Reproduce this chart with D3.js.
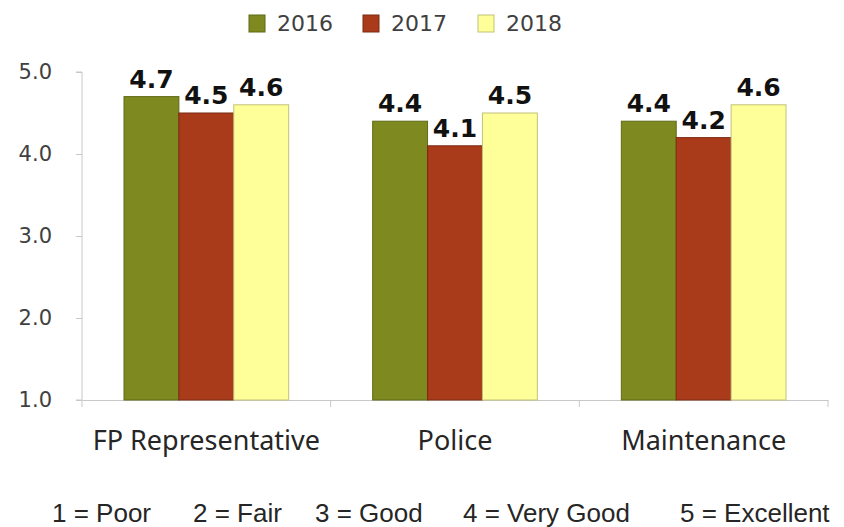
<!DOCTYPE html>
<html>
<head>
<meta charset="utf-8">
<script src="https://cdn.jsdelivr.net/npm/d3@7"></script>
<style>
  body { margin: 0; background: #fff; }
  text { font-family: "Noto Sans", sans-serif; }
</style>
</head>
<body>
<script>
"use strict";

const categories = ["FP Representative", "Police", "Maintenance"];
const years = ["2016", "2017", "2018"];
const values2016 = [4.7, 4.4, 4.4];
const values2017 = [4.5, 4.1, 4.2];
const values2018 = [4.6, 4.5, 4.6];
const yTicks = [1, 2, 3, 4, 5];
const scaleNote = ["1 = Poor", "2 = Fair", "3 = Good", "4 = Very Good", "5 = Excellent"];

const colors = ["#7e891f", "#a93a1a", "#ffff99"];
const strokes = ["#5f6a15", "#7d2a12", "#c2c27a"];

const series = [values2016, values2017, values2018];

let svg = d3.select("body")
  .append("svg")
  .attr("width", 844)
  .attr("height", 527);

let x = d3.scaleBand()
  .domain(categories)
  .range([82, 828]);

let x1 = d3.scaleBand()
  .domain(years)
  .range([42, x.bandwidth() - 42]);

let y = d3.scaleLinear()
  .domain([1, 5])
  .range([400, 72]);

// y axis
let yAxis = svg.append("g")
  .attr("transform", "translate(82,0)")
  .call(d3.axisLeft(y).tickValues(yTicks).tickSize(6).tickFormat(d3.format(".1f")));
yAxis.select(".domain").attr("stroke", "#c8c8c8").attr("d", "M-6,72H0V400H-6");
yAxis.selectAll(".tick line").attr("stroke", "#c8c8c8");
yAxis.selectAll(".tick text")
  .attr("x", -30)
  .attr("fill", "#404040")
  .style("font-family", "'DejaVu Sans', sans-serif")
  .style("font-size", "21px");

// x axis
let xAxis = svg.append("g")
  .attr("transform", "translate(0,400)")
  .call(d3.axisBottom(x).tickSize(0).tickPadding(0));
xAxis.select(".domain").attr("stroke", "#c8c8c8");
xAxis.selectAll(".tick text").remove();
xAxis.selectAll(".xt")
  .data(categories.concat(["end"]))
  .enter()
  .append("line")
  .attr("x1", (d, i) => i < 3 ? x(d) : x.range()[1])
  .attr("x2", (d, i) => i < 3 ? x(d) : x.range()[1])
  .attr("y1", 0)
  .attr("y2", 7)
  .attr("stroke", "#c8c8c8");

svg.append("g")
  .selectAll("text")
  .data(categories)
  .enter()
  .append("text")
  .attr("x", d => x(d) + x.bandwidth() / 2)
  .attr("y", 450)
  .attr("text-anchor", "middle")
  .attr("fill", "#262626")
  .style("font-size", "27px")
  .text(d => d);

// bars
let groups = svg.append("g")
  .selectAll("g")
  .data(series)
  .enter()
  .append("g");

groups.selectAll("rect")
  .data((s, si) => s.map((v, i) => ({ v: v, cat: categories[i], si: si })))
  .enter()
  .append("rect")
  .attr("x", d => x(d.cat) + x1(years[d.si]))
  .attr("y", d => y(d.v))
  .attr("width", x1.bandwidth())
  .attr("height", d => y(1) - y(d.v))
  .attr("fill", d => colors[d.si])
  .attr("stroke", d => strokes[d.si])
  .attr("stroke-width", 1);

groups.selectAll("text")
  .data((s, si) => s.map((v, i) => ({ v: v, cat: categories[i], si: si })))
  .enter()
  .append("text")
  .attr("x", d => x(d.cat) + x1(years[d.si]) + x1.bandwidth() / 2)
  .attr("y", d => y(d.v) - 9)
  .attr("text-anchor", "middle")
  .attr("fill", "#111")
  .style("font-family", "'DejaVu Sans', sans-serif")
  .style("font-weight", "bold")
  .style("font-size", "25px")
  .text(d => d3.format(".1f")(d.v));

// legend
let legendX = [249, 363, 478];
let legend = svg.append("g")
  .selectAll("g")
  .data(years)
  .enter()
  .append("g")
  .attr("transform", (d, i) => `translate(${legendX[i]},15)`);

legend.append("rect")
  .attr("width", 16)
  .attr("height", 17)
  .attr("fill", (d, i) => colors[i])
  .attr("stroke", (d, i) => strokes[i]);

legend.append("text")
  .attr("x", 28)
  .attr("y", 16)
  .attr("fill", "#404040")
  .style("font-family", "'DejaVu Sans', sans-serif")
  .style("font-size", "22px")
  .text(d => d);

// rating scale note
let noteX = [52, 193, 315, 463, 680];
svg.append("g")
  .selectAll("text")
  .data(scaleNote)
  .enter()
  .append("text")
  .attr("x", (d, i) => noteX[i])
  .attr("y", 522)
  .attr("fill", "#262626")
  .style("font-family", "'Liberation Sans', sans-serif")
  .style("font-size", "26px")
  .text(d => d);
</script>
</body>
</html>
